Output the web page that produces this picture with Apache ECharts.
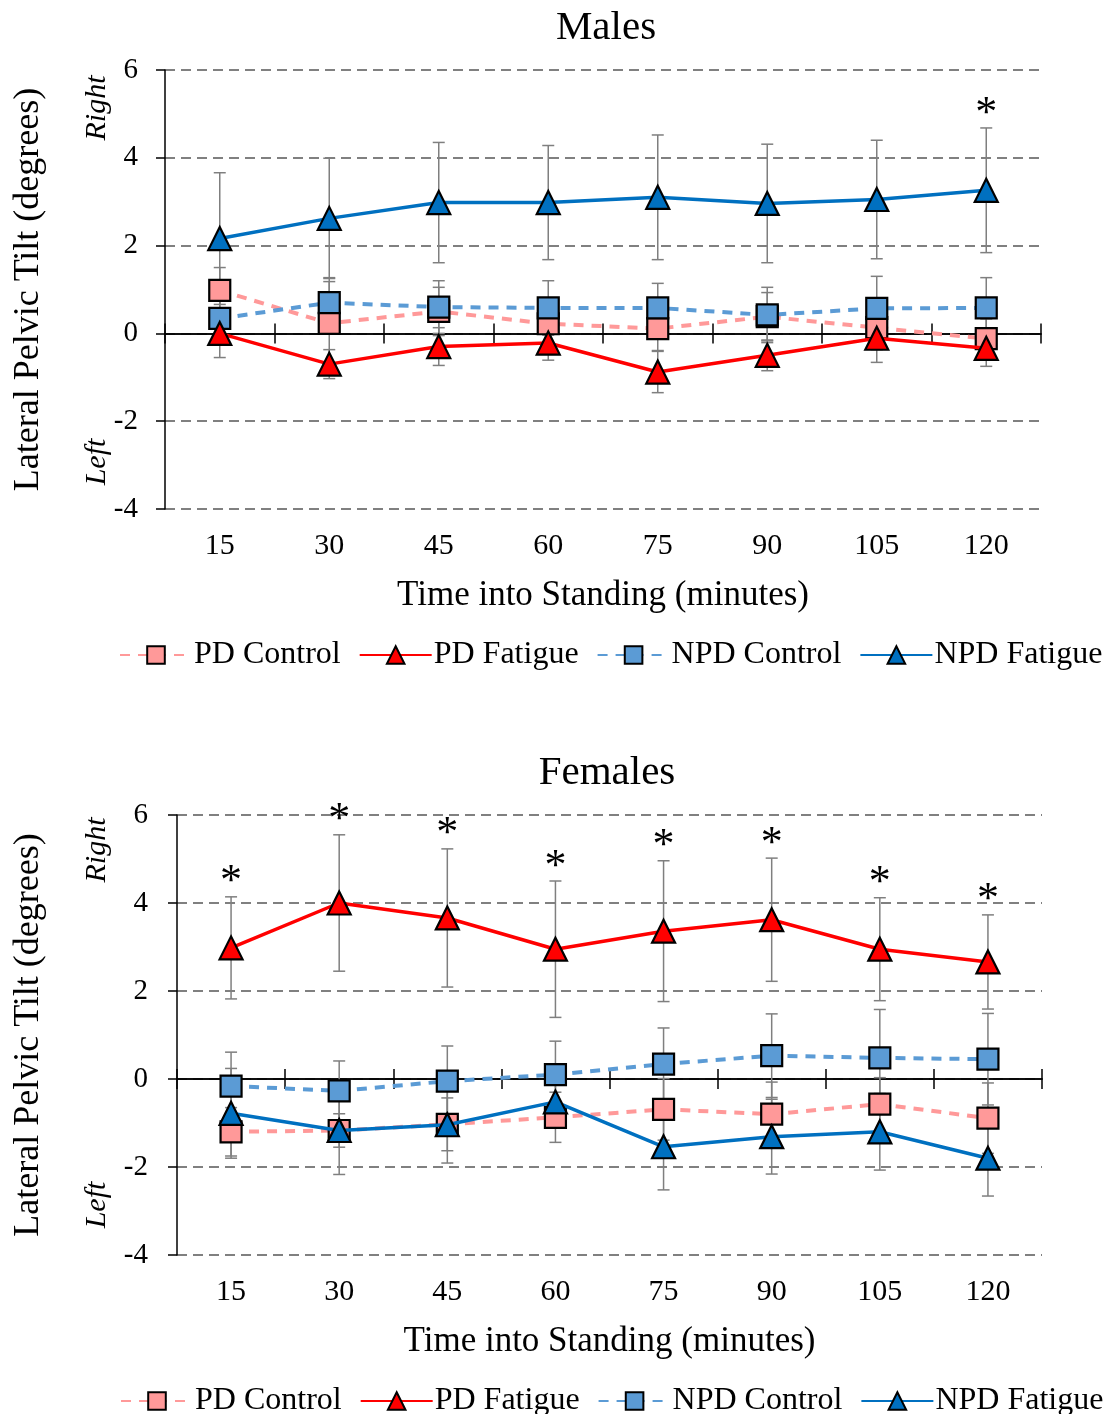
<!DOCTYPE html>
<html>
<head>
<meta charset="utf-8">
<script src="https://cdn.jsdelivr.net/npm/echarts@6/dist/echarts.min.js"></script>
<style>
  html, body { margin: 0; padding: 0; background: #fff; }
  #chart { width: 1115px; height: 1414px; }
</style>
</head>
<body>
<div id="chart"></div>
<script>
// time points (minutes)
const categories = ['15', '30', '45', '60', '75', '90', '105', '120'];
const seriesNames = ['PD Control', 'PD Fatigue', 'NPD Control', 'NPD Fatigue'];

// Males
const malePdControl = [0.98, 0.23, 0.50, 0.22, 0.11, 0.38, 0.13, -0.12];
const malePdControlSd = [0.52, 0.95, 0.55, 0.50, 0.50, 0.55, 0.50, 0.45];
const malePdFatigue = [0.00, -0.70, -0.30, -0.22, -0.88, -0.50, -0.11, -0.34];
const malePdFatigueSd = [0.55, 0.33, 0.43, 0.39, 0.47, 0.35, 0.55, 0.41];
const maleNpdControl = [0.34, 0.70, 0.60, 0.58, 0.58, 0.42, 0.57, 0.58];
const maleNpdControlSd = [0.60, 0.57, 0.60, 0.62, 0.56, 0.63, 0.73, 0.69];
const maleNpdFatigue = [2.16, 2.62, 2.98, 2.98, 3.10, 2.96, 3.05, 3.26];
const maleNpdFatigueSd = [1.50, 1.37, 1.37, 1.30, 1.42, 1.35, 1.35, 1.42];
const maleSig = [0, 0, 0, 0, 0, 0, 0, 1]; // on NPD Fatigue

// Females
const femPdControl = [-1.20, -1.17, -1.03, -0.87, -0.69, -0.80, -0.57, -0.89];
const femPdControlSd = [0.55, 0.38, 0.60, 0.57, 0.70, 0.73, 0.60, 0.80];
const femPdFatigue = [2.98, 4.00, 3.66, 2.95, 3.36, 3.62, 2.95, 2.66];
const femPdFatigueSd = [1.16, 1.55, 1.57, 1.55, 1.60, 1.40, 1.17, 1.07];
const femNpdControl = [-0.16, -0.27, -0.05, 0.10, 0.34, 0.53, 0.48, 0.45];
const femNpdControlSd = [0.77, 0.68, 0.80, 0.76, 0.82, 0.95, 1.10, 1.04];
const femNpdFatigue = [-0.78, -1.17, -1.04, -0.52, -1.54, -1.31, -1.20, -1.80];
const femNpdFatigueSd = [1.02, 1.00, 0.87, 0.60, 0.98, 0.85, 0.87, 0.86];
const femSig = [1, 1, 1, 1, 1, 1, 1, 1]; // on PD Fatigue

const yTicks = { min: -4, max: 6, interval: 2 };

const FONT = 'Liberation Serif';
const styles = {
  'PD Control': { color: '#ff9999', dash: [10, 8], symbol: 'rect' },
  'PD Fatigue': { color: '#ff0000', dash: 'solid', symbol: 'triangle' },
  'NPD Control': { color: '#5b9bd5', dash: [10, 8], symbol: 'rect' },
  'NPD Fatigue': { color: '#0070c0', dash: 'solid', symbol: 'triangle' },
};
const zOrder = { 'PD Control': 3, 'NPD Control': 4, 'PD Fatigue': 5, 'NPD Fatigue': 6 };

function errorBars(params, api) {
  const x = api.value(0), m = api.value(1), s = api.value(2), sig = api.value(3);
  const top = api.coord([x, m + s]);
  const bot = api.coord([x, m - s]);
  const cap = 6;
  const st = { stroke: '#7f7f7f', lineWidth: 1.5 };
  const children = [
    { type: 'line', shape: { x1: top[0], y1: top[1], x2: bot[0], y2: bot[1] }, style: st },
    { type: 'line', shape: { x1: top[0] - cap, y1: top[1], x2: top[0] + cap, y2: top[1] }, style: st },
    { type: 'line', shape: { x1: bot[0] - cap, y1: bot[1], x2: bot[0] + cap, y2: bot[1] }, style: st },
  ];
  if (sig) {
    children.push({
      type: 'text',
      style: { text: '*', x: top[0], y: top[1] + 8, align: 'center', verticalAlign: 'bottom',
               font: '44px "Liberation Serif"', fill: '#000' }
    });
  }
  return { type: 'group', children };
}

function makeSeries(yIdx, xAxisIdx, name, values, sds, sig) {
  const st = styles[name];
  const line = {
    name, type: 'line', xAxisIndex: xAxisIdx, yAxisIndex: yIdx,
    data: values, symbol: st.symbol, symbolSize: st.symbol === 'rect' ? 21 : 23,
    z: zOrder[name],
    lineStyle: { color: st.color, width: st.dash === 'solid' ? 3.5 : 4, type: st.dash },
    itemStyle: { color: st.color, borderColor: '#000', borderWidth: 2.2 },
    emphasis: { disabled: true }, animation: false,
  };
  const err = {
    type: 'custom', xAxisIndex: xAxisIdx, yAxisIndex: yIdx, z: 2,
    renderItem: errorBars, encode: { x: 0, y: 1 },
    data: values.map((v, i) => [i, v, sds[i], sig ? sig[i] : 0]),
    animation: false, silent: true,
  };
  return [err, line];
}

const grids = [
  { left: 165, right: 74, top: 70, height: 439 },
  { left: 177, right: 73, top: 815, height: 440 },
];

const xAxes = [];
const yAxes = [];
grids.forEach((g, gi) => {
  // labels + name at the bottom
  xAxes.push({
    gridIndex: gi, type: 'category', data: categories, position: 'bottom',
    axisLine: { show: false, onZero: false }, axisTick: { show: false },
    axisLabel: { color: '#000', fontFamily: FONT, fontSize: 30, margin: 22 },
    name: 'Time into Standing (minutes)', nameLocation: 'middle', nameGap: 69,
    nameTextStyle: { color: '#000', fontFamily: FONT, fontSize: 35 },
  });
  // zero line, ticks downward
  xAxes.push({
    gridIndex: gi, type: 'category', data: categories, position: 'bottom',
    axisLine: { show: true, onZero: true, onZeroAxisIndex: gi * 2, lineStyle: { color: '#000', width: 1.5 } },
    axisTick: { show: true, length: 10, lineStyle: { color: '#000', width: 1.5 } },
    axisLabel: { show: false },
  });
  // zero line, ticks upward
  xAxes.push({
    gridIndex: gi, type: 'category', data: categories, position: 'top',
    axisLine: { show: true, onZero: true, onZeroAxisIndex: gi * 2 + 1, lineStyle: { color: '#000', width: 1.5 } },
    axisTick: { show: true, length: 10, lineStyle: { color: '#000', width: 1.5 } },
    axisLabel: { show: false },
  });
  yAxes.push({
    gridIndex: gi, type: 'value', min: yTicks.min, max: yTicks.max, interval: yTicks.interval,
    axisLine: { show: true, onZero: false, lineStyle: { color: '#000', width: 1.5 } },
    axisTick: { show: true, length: 9, lineStyle: { color: '#000', width: 1.5 } },
    axisLabel: { color: '#000', fontFamily: FONT, fontSize: 29, margin: gi === 0 ? 27 : 29 },
    splitLine: { show: true, lineStyle: { color: '#808080', width: 2, type: [10, 6] } },
    name: 'Lateral Pelvic Tilt (degrees)', nameLocation: 'middle', nameGap: gi === 0 ? 118 : 130,
    nameTextStyle: { color: '#000', fontFamily: FONT, fontSize: 36 },
  });
  // hidden twin so the second zero line has its own anchor
  yAxes.push({
    gridIndex: gi, type: 'value', min: yTicks.min, max: yTicks.max, interval: yTicks.interval,
    position: 'right', show: false,
  });
});

const maleData = [
  ['PD Control', malePdControl, malePdControlSd, null],
  ['NPD Control', maleNpdControl, maleNpdControlSd, null],
  ['PD Fatigue', malePdFatigue, malePdFatigueSd, null],
  ['NPD Fatigue', maleNpdFatigue, maleNpdFatigueSd, maleSig],
];
const femData = [
  ['PD Control', femPdControl, femPdControlSd, null],
  ['NPD Control', femNpdControl, femNpdControlSd, null],
  ['PD Fatigue', femPdFatigue, femPdFatigueSd, femSig],
  ['NPD Fatigue', femNpdFatigue, femNpdFatigueSd, null],
];

let series = [];
maleData.forEach(d => { series = series.concat(makeSeries(0, 0, d[0], d[1], d[2], d[3])); });
femData.forEach(d => { series = series.concat(makeSeries(2, 3, d[0], d[1], d[2], d[3])); });

const legendBase = {
  data: seriesNames, itemWidth: 72, itemHeight: 22, itemGap: 18,
  textStyle: { color: '#000', fontFamily: FONT, fontSize: 32, padding: [0, 0, 0, -3] },
  selectedMode: false,
};

const sideText = (text, x, y) => ({
  type: 'text', x, y, rotation: Math.PI / 2,
  style: { text, font: 'italic 30px "Liberation Serif"', fill: '#000', align: 'center', verticalAlign: 'middle' },
});

const chart = echarts.init(document.getElementById('chart'));
chart.setOption({
  backgroundColor: '#fff',
  animation: false,
  title: [
    { text: 'Males', left: 601, top: 3, textAlign: 'center',
      textStyle: { color: '#000', fontFamily: FONT, fontSize: 41, fontWeight: 'normal' } },
    { text: 'Females', left: 602, top: 748, textAlign: 'center',
      textStyle: { color: '#000', fontFamily: FONT, fontSize: 41, fontWeight: 'normal' } },
  ],
  legend: [
    Object.assign({ left: 114, top: 634 }, legendBase),
    Object.assign({ left: 115, top: 1380 }, legendBase),
  ],
  grid: grids,
  xAxis: xAxes,
  yAxis: yAxes,
  series,
  graphic: [
    sideText('Right', 97, 108),
    sideText('Left', 97, 462),
    sideText('Right', 97, 850),
    sideText('Left', 97, 1205),
  ],
});
</script>
</body>
</html>
